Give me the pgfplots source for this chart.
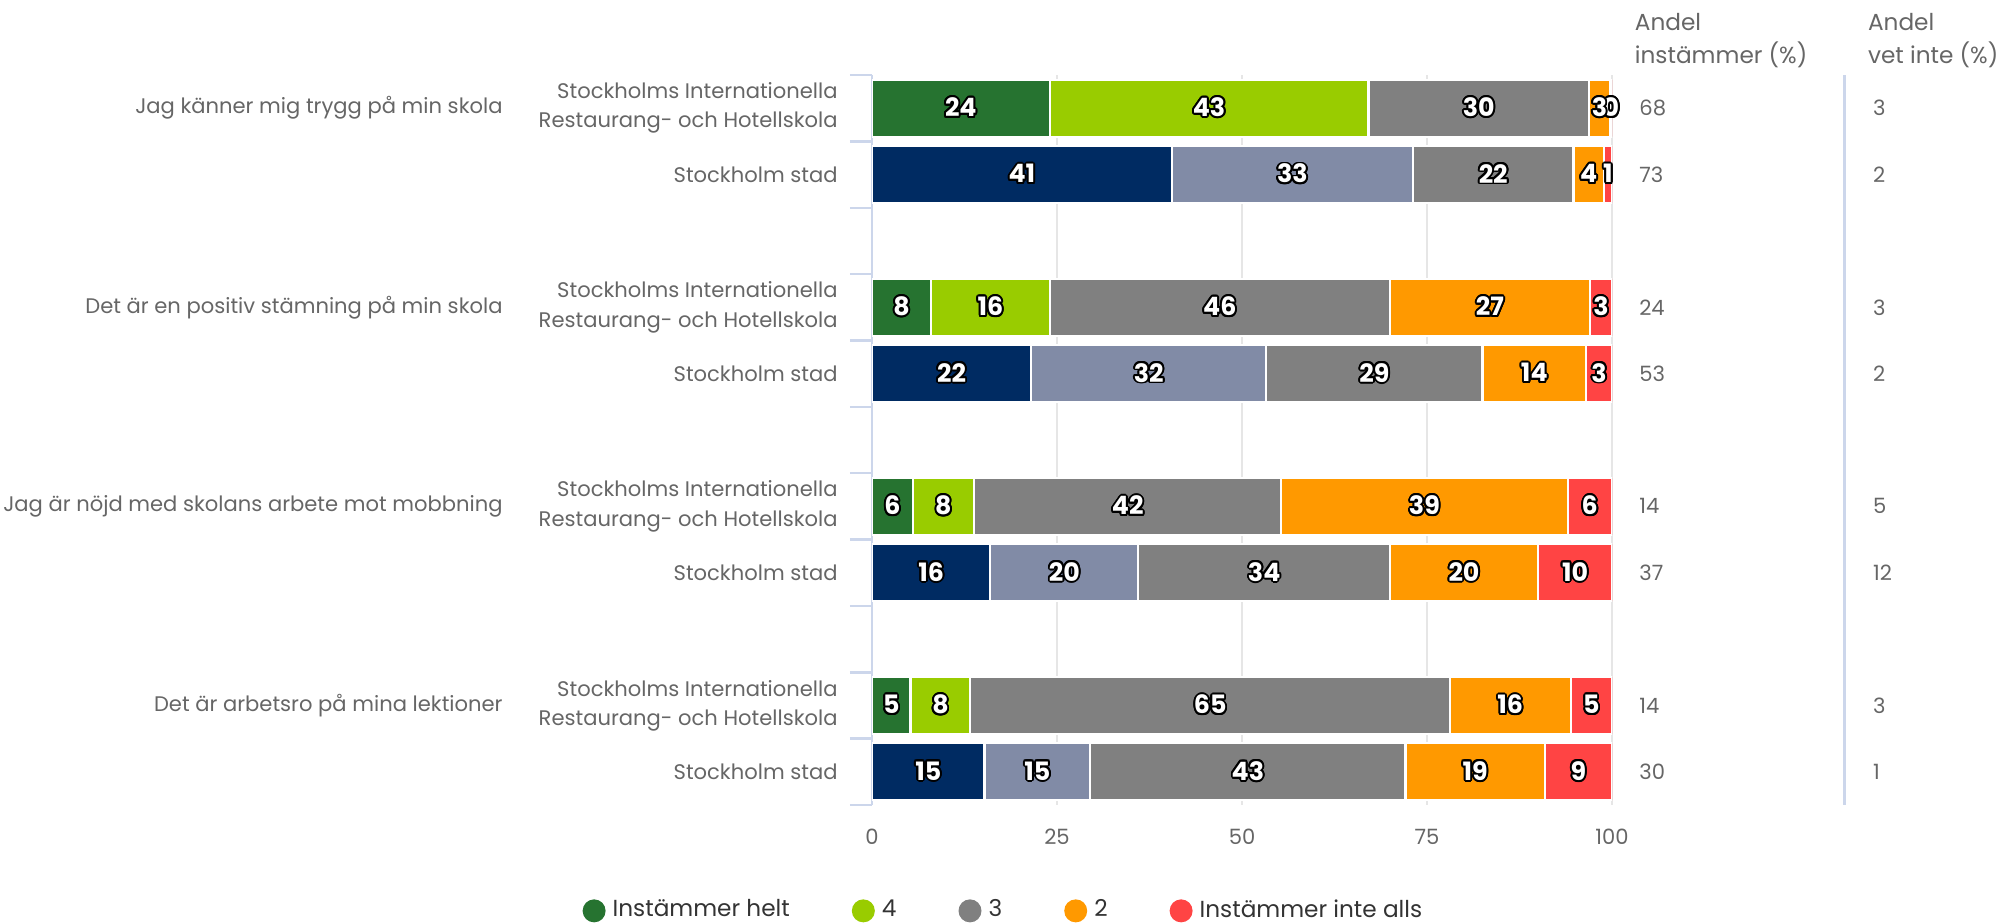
\documentclass[border=0pt]{standalone}
\usepackage{pgfplots}
\pgfplotsset{compat=1.18}
\usepackage{pgfplotstable}
\usepackage{fontspec}
\setmainfont{Poppins}
\usepackage{contour}
\contourlength{0.55pt}
\definecolor{dg}{HTML}{267330}
\definecolor{lg}{HTML}{99CC00}
\definecolor{gr}{HTML}{808080}
\definecolor{or}{HTML}{FF9900}
\definecolor{rd}{HTML}{FF4444}
\definecolor{nv}{HTML}{002B62}
\definecolor{sl}{HTML}{818BA6}
\definecolor{txt}{HTML}{666666}
\definecolor{txd}{HTML}{333333}
\definecolor{axb}{HTML}{CCD6EB}
\definecolor{grd}{HTML}{E6E6E6}

\newcommand{\lblfont}{\fontsize{6.0}{8.3}\selectfont}
\newcommand{\barfont}{\bfseries\fontsize{7.2}{8}\selectfont}

% SIRH rows (y positions 0,3,6,9): segment widths and their printed labels
\pgfplotstableread{
y a la b lb c lc d ld e le
0 24.0 24 43.1 43 29.8 30 2.8 3 0.3 0
3 8.0 8 16.0 16 46.0 46 27.0 27 3.0 3
6 5.5 6 8.3 8 41.5 42 38.7 39 6.0 6
9 5.2 5 8.1 8 64.8 65 16.3 16 5.6 5
}\sirh
% Stockholm stad rows (y positions 1,4,7,10)
\pgfplotstableread{
y a la b lb c lc d ld e le
1 40.5 41 32.6 33 21.7 22 4.1 4 1.1 1
4 21.5 22 31.8 32 29.2 29 14.0 14 3.5 3
7 16.0 16 20.0 20 34.0 34 20.0 20 10.0 10
10 15.2 15 14.3 15 42.6 43 18.8 19 9.1 9
}\sthlm
% right-hand columns
\pgfplotstableread{
y xa ia xb vi
0 103.6 68 135.2 3
1 103.6 73 135.2 2
3 103.6 24 135.2 3
4 103.6 53 135.2 2
6 103.6 14 135.2 5
7 103.6 37 135.2 12
9 103.6 14 135.2 3
10 103.6 30 135.2 1
}\colsdata

\pgfplotsset{
  geom/.style={at={(8.72cm,1.18cm)}, anchor=south west, scale only axis,
    width=7.40cm, height=7.30cm, xmin=0, xmax=100, ymin=-0.5, ymax=10.5, y dir=reverse},
  barlabels/.style={
    xbar stacked, bar width=0.86,
    point meta=explicit symbolic,
    nodes near coords={\contour{black}{\pgfplotspointmeta}},
    every node near coord/.append style={anchor=center, text=white, font=\barfont},
  },
  seg/.style={fill=#1, draw=white, line width=0.6pt},
}

\begin{document}
\begin{tikzpicture}
\useasboundingbox (0,0) rectangle (20cm,9.23cm);
\begin{axis}[geom, barlabels,
  axis y line*=left, axis x line*=bottom,
  x axis line style={draw=none}, y axis line style={axb, line width=0.7pt, -},
  xtick={0,25,50,75,100}, xmajorgrids, grid style={grd, line width=0.7pt},
  tick align=outside, major tick length=0pt, minor tick length=0.22cm,
  ytick={0,1,3,4,6,7,9,10},
  yticklabels={{Stockholms Internationella\\Restaurang- och Hotellskola}, Stockholm stad,
    {Stockholms Internationella\\Restaurang- och Hotellskola}, Stockholm stad,
    {Stockholms Internationella\\Restaurang- och Hotellskola}, Stockholm stad,
    {Stockholms Internationella\\Restaurang- och Hotellskola}, Stockholm stad},
  minor ytick={-0.5,0.5,...,10.5},
  minor tick style={axb, line width=0.7pt},
  yticklabel style={align=right, font=\lblfont, text=txt, xshift=-0.22cm},
  xticklabel style={font=\lblfont, text=txt, yshift=-0.12cm},
  /pgf/number format/assume math mode=true,
  extra y ticks={0,3,6,9},
  extra y tick labels={Jag känner mig trygg på min skola, Det är en positiv stämning på min skola,
    Jag är nöjd med skolans arbete mot mobbning, Det är arbetsro på mina lektioner},
  extra y tick style={yticklabel style={xshift=-3.35cm}, major tick length=0pt, ymajorgrids=false},
  legend image code/.code={\fill[#1, draw=none] (0.12cm,0cm) circle (0.115cm);},
  legend style={at={(rel axis cs:0.181,-0.145)}, anchor=center, draw=none, fill=none,
    legend columns=5, font=\fontsize{6.6}{8}\selectfont, text=txd,
    /tikz/every even column/.append style={column sep=0.55cm}},
]
\addplot[seg=dg] table[x=a, y=y, meta=la] {\sirh};
\addplot[seg=lg] table[x=b, y=y, meta=lb] {\sirh};
\addplot[seg=gr] table[x=c, y=y, meta=lc] {\sirh};
\addplot[seg=or] table[x=d, y=y, meta=ld] {\sirh};
\addplot[seg=rd] table[x=e, y=y, meta=le] {\sirh};
\legend{Instämmer helt, 4, 3, 2, Instämmer inte alls}
\end{axis}
\begin{axis}[geom, barlabels, hide axis]
\addplot[seg=nv] table[x=a, y=y, meta=la] {\sthlm};
\addplot[seg=sl] table[x=b, y=y, meta=lb] {\sthlm};
\addplot[seg=gr] table[x=c, y=y, meta=lc] {\sthlm};
\addplot[seg=or] table[x=d, y=y, meta=ld] {\sthlm};
\addplot[seg=rd] table[x=e, y=y, meta=le] {\sthlm};
\end{axis}
\begin{axis}[geom, hide axis, clip=false, point meta=explicit symbolic,
  nodes near coords, every node near coord/.style={anchor=west, inner sep=0pt, text=txt, font=\lblfont}]
\addplot[draw=none, mark=none] table[x=xa, y=y, meta=ia] {\colsdata};
\addplot[draw=none, mark=none] table[x=xb, y=y, meta=vi] {\colsdata};
\node[anchor=south west, align=left, inner sep=0pt, text=txt, font=\fontsize{6.6}{9.4}\selectfont]
  at (axis cs:103.0,-0.5) [yshift=0.06cm] {Andel\\instämmer (\%)};
\node[anchor=south west, align=left, inner sep=0pt, text=txt, font=\fontsize{6.6}{9.4}\selectfont]
  at (axis cs:134.5,-0.5) [yshift=0.06cm] {Andel\\vet inte (\%)};
\draw[axb, line width=0.7pt] (axis cs:131.4,-0.5) -- (axis cs:131.4,10.5);
\end{axis}
\end{tikzpicture}
\end{document}
